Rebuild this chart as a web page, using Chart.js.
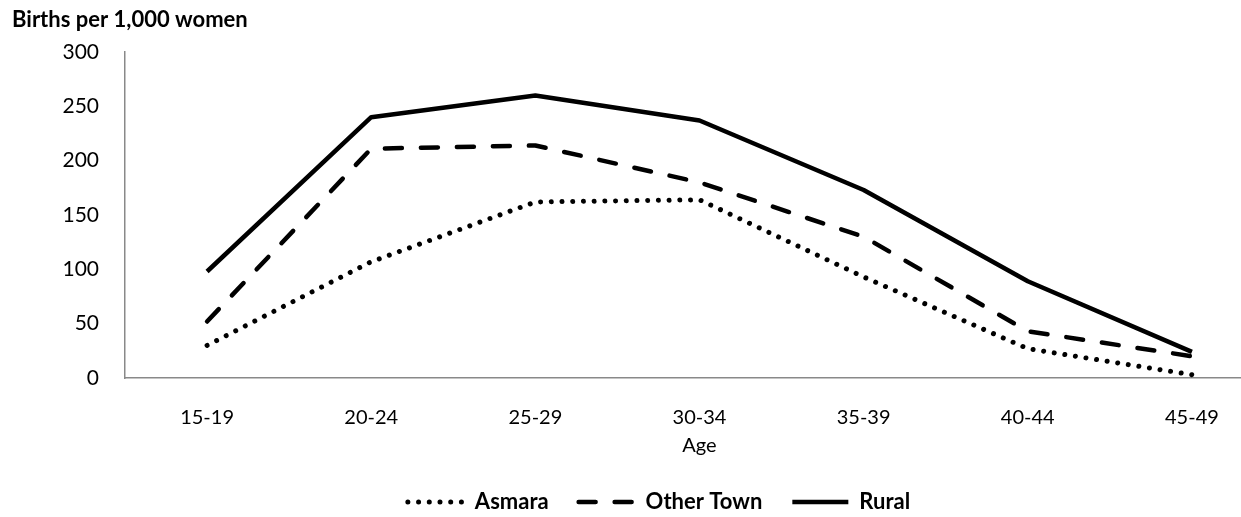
<!DOCTYPE html>
<html>
<head>
<meta charset="utf-8">
<script src="https://cdn.jsdelivr.net/npm/chart.js@4.4.1/dist/chart.umd.min.js"></script>
<style>
  html, body { margin: 0; padding: 0; background: #fff; overflow: hidden; }
  #wrap { width: 1318px; height: 523px; }
</style>
</head>
<body>
<div id="wrap"><canvas id="fert-chart" width="1318" height="523"></canvas></div>
<script>
// Age-specific fertility rates by residence
const ageGroups = ['15-19', '20-24', '25-29', '30-34', '35-39', '40-44', '45-49'];
const asmara = [30, 107, 162, 164, 93, 27, 3];
const otherTown = [52, 211, 214, 180, 130, 43, 20];
const rural = [98, 240, 260, 237, 173, 89, 24];
const yTitle = 'Births per 1,000 women';
const xTitle = 'Age';

const FONT = 'Lato, Carlito, Calibri, sans-serif';

// draws the y-axis caption at the top left corner
const cornerTitle = {
  id: 'cornerTitle',
  afterDraw(chart) {
    const ctx = chart.ctx;
    ctx.save();
    ctx.font = 'bold 22px ' + FONT;
    ctx.fillStyle = '#000';
    ctx.textBaseline = 'middle';
    ctx.textAlign = 'left';
    ctx.fillText(yTitle, 12, 20);
    ctx.restore();
  }
};

let fertChart;

function initChart() {
  const ctx = document.getElementById('fert-chart').getContext('2d');
  fertChart = new Chart(ctx, {
    type: 'line',
    data: { labels: ageGroups, datasets: [
      { label: 'Asmara', data: asmara, borderColor: '#000', borderWidth: 5, borderDash: [0.01, 10.7], borderCapStyle: 'round', borderJoinStyle: 'round', pointRadius: 0, tension: 0 },
      { label: 'Other Town', data: otherTown, borderColor: '#000', borderWidth: 4.5, borderDash: [17, 19], borderCapStyle: 'round', borderJoinStyle: 'round', pointRadius: 0, tension: 0 },
      { label: 'Rural', data: rural, borderColor: '#000', borderWidth: 4.5, borderCapStyle: 'butt', borderJoinStyle: 'round', pointRadius: 0, tension: 0 }
    ]},
    options: {
      responsive: false,
      devicePixelRatio: 1,
      animation: false,
      layout: { padding: { left: 44, right: 44, top: 52, bottom: 0 } },
      scales: {
        y: {
          min: 0, max: 300,
          ticks: { stepSize: 50, padding: 18, color: '#000', font: { family: FONT, size: 21 } },
          grid: { display: false },
          border: { display: true, color: '#898989', width: 1.5 },
          afterFit(scale) { scale.width = 81; }
        },
        x: {
          offset: true,
          ticks: { padding: 20, color: '#000', font: { family: FONT, size: 20 } },
          grid: { display: false },
          border: { display: true, color: '#898989', width: 1.5 },
          title: { display: true, text: xTitle, color: '#000', font: { family: FONT, size: 20 }, padding: { top: 0, bottom: 3 } },
          afterFit(scale) { scale.height = 83; }
        }
      },
      plugins: {
        legend: {
          position: 'bottom',
          labels: {
            usePointStyle: true, pointStyle: 'line', pointStyleWidth: 56,
            padding: 30, color: '#000',
            font: { family: FONT, size: 22, weight: 'bold' },
            generateLabels(chart) {
              return chart.data.datasets.map((ds, i) => ({
                text: ds.label,
                fillStyle: ds.borderColor,
                strokeStyle: ds.borderColor,
                lineWidth: ds.borderWidth,
                lineDash: ds.borderDash || [],
                lineCap: ds.borderCapStyle,
                pointStyle: 'line',
                fontColor: '#000',
                hidden: false,
                datasetIndex: i
              }));
            }
          }
        },
        tooltip: { enabled: false },
        title: { display: false }
      }
    },
    plugins: [cornerTitle]
  });
}

initChart();
</script>
</body>
</html>
